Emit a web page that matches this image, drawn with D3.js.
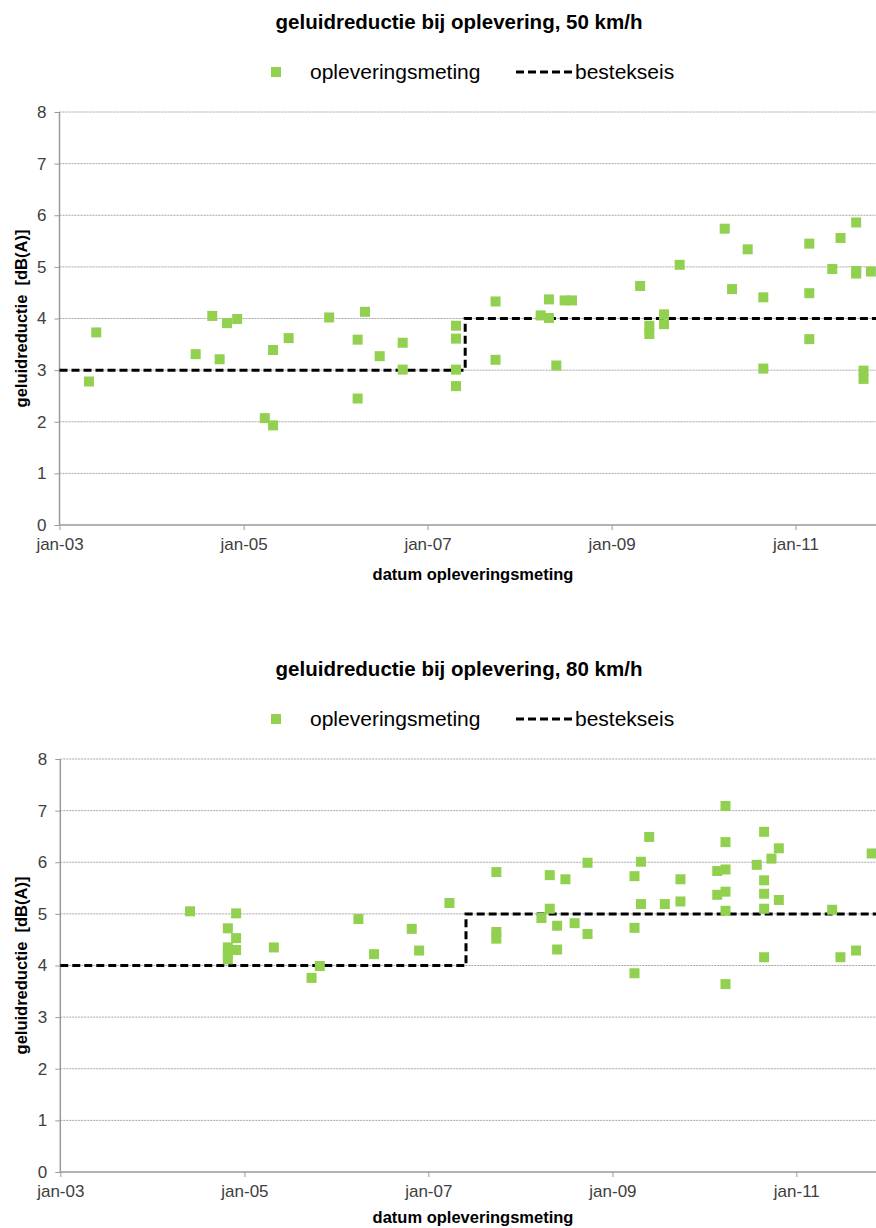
<!DOCTYPE html>
<html>
<head>
<meta charset="utf-8">
<script src="https://cdn.jsdelivr.net/npm/d3@7"></script>
<style>
  body { margin: 0; background: #fff; }
  svg { display: block; font-family: "Liberation Sans", Arial, sans-serif; }
  .tick text { fill: #404040; font-size: 17px; }
  .axis path, .axis line { stroke: #9a9a9a; }
  .grid line { stroke: #a6a6a6; stroke-dasharray: 2,1; }
</style>
</head>
<body>
<svg id="chart" width="876" height="1228"></svg>
<script>
var dates50 = [2003.32, 2003.40, 2004.48, 2004.66, 2004.74, 2004.82, 2004.93, 2005.23, 2005.32, 2005.32,
  2005.49, 2005.93, 2006.24, 2006.24, 2006.32, 2006.48, 2006.73, 2006.73, 2007.31, 2007.31,
  2007.31, 2007.31, 2007.74, 2007.74, 2008.23, 2008.32, 2008.32, 2008.40, 2008.49, 2008.57,
  2009.31, 2009.41, 2009.41, 2009.57, 2009.57, 2009.74, 2010.23, 2010.31, 2010.48, 2010.65,
  2010.65, 2011.15, 2011.15, 2011.15, 2011.40, 2011.49, 2011.66, 2011.66, 2011.66, 2011.82,
  2011.74, 2011.74];
var values50 = [2.78, 3.73, 3.31, 4.05, 3.21, 3.91, 3.99, 2.07, 3.39, 1.93,
  3.62, 4.02, 3.59, 2.45, 4.13, 3.27, 3.53, 3.01, 3.86, 3.61,
  3.01, 2.69, 3.20, 4.33, 4.06, 4.01, 4.37, 3.09, 4.35, 4.35,
  4.63, 3.86, 3.70, 4.08, 3.89, 5.04, 5.74, 4.57, 5.34, 4.41,
  3.03, 5.45, 4.49, 3.60, 4.96, 5.56, 5.86, 4.92, 4.87, 4.91,
  2.99, 2.83];

var dates80 = [2004.41, 2004.82, 2004.82, 2004.82, 2004.82, 2004.91, 2004.91, 2004.91, 2005.32, 2005.73,
  2005.82, 2006.24, 2006.41, 2006.82, 2006.90, 2007.23, 2007.74, 2007.74, 2007.74, 2008.23,
  2008.32, 2008.32, 2008.40, 2008.40, 2008.49, 2008.59, 2008.73, 2008.73, 2009.24, 2009.24,
  2009.24, 2009.31, 2009.31, 2009.40, 2009.57, 2009.74, 2009.74, 2010.14, 2010.14, 2010.23,
  2010.23, 2010.23, 2010.23, 2010.23, 2010.23, 2010.57, 2010.65, 2010.65, 2010.65, 2010.65,
  2010.65, 2010.73, 2010.81, 2010.81, 2011.39, 2011.48, 2011.65, 2011.82];
var values80 = [5.05, 4.72, 4.35, 4.22, 4.12, 5.01, 4.53, 4.30, 4.35, 3.76,
  3.99, 4.90, 4.22, 4.71, 4.29, 5.21, 5.81, 4.65, 4.52, 4.92,
  5.75, 5.10, 4.77, 4.31, 5.67, 4.82, 5.99, 4.61, 5.73, 4.73,
  3.85, 6.01, 5.19, 6.49, 5.19, 5.67, 5.24, 5.83, 5.37, 7.09,
  6.39, 5.86, 5.43, 5.06, 3.64, 5.95, 6.59, 5.65, 5.39, 5.10,
  4.16, 6.07, 6.27, 5.27, 5.08, 4.16, 4.29, 6.17];

// requirement (bestekseis) steps: start date, level
var eisDates = [2003.0, 2007.41, 2011.99];
var eis50 = [3, 4, 4];
var eis80 = [4, 5, 5];

var yTicks = [0, 1, 2, 3, 4, 5, 6, 7, 8];
var xTickYears = [2003, 2005, 2007, 2009, 2011];
var xTickLabels = ["jan-03", "jan-05", "jan-07", "jan-09", "jan-11"];

var titles = ["geluidreductie bij oplevering, 50 km/h", "geluidreductie bij oplevering, 80 km/h"];
var legendLabels = ["opleveringsmeting", "bestekseis"];
var yTitle = "geluidreductie  [dB(A)]";
var xTitle = "datum opleveringsmeting";

var green = "#92d050";

function toDate(y) {
  var yr = Math.floor(y);
  var a = new Date(yr, 0, 1), b = new Date(yr + 1, 0, 1);
  return new Date(+a + (y - yr) * (b - a));
}

var svg = d3.select("#chart");

function drawChart(top, left, title, dates, values, eis, xTitleY) {
  var plotTop = top + 112, plotBottom = top + 525, right = 876;
  var g = svg.append("g");

  var x = d3.scaleTime()
    .domain([toDate(2003), toDate(2011)])
    .range([left, left + 736]);
  var y = d3.scaleLinear()
    .domain([0, 8])
    .range([plotBottom, plotTop]);

  // title
  g.append("text")
    .attr("x", 459).attr("y", top + 29)
    .attr("text-anchor", "middle")
    .style("font-weight", "bold").style("font-size", "20.5px")
    .text(title);

  // legend
  var ly = top + 72;
  g.append("rect").attr("x", 271).attr("y", ly - 5).attr("width", 10).attr("height", 10).attr("fill", green);
  g.append("text").attr("x", 310).attr("y", ly + 7).style("font-size", "21px").text(legendLabels[0]);
  g.append("line").attr("x1", 516).attr("x2", 573).attr("y1", ly).attr("y2", ly)
    .attr("stroke", "#000").attr("stroke-width", 3).attr("stroke-dasharray", "8,4");
  g.append("text").attr("x", 575).attr("y", ly + 7).style("font-size", "21px").text(legendLabels[1]);

  // grid
  g.append("g").attr("class", "grid")
    .selectAll("line").data(yTicks.filter(function(d) { return d > 0; }))
    .enter().append("line")
    .attr("x1", left).attr("x2", right)
    .attr("y1", function(d) { return y(d); }).attr("y2", function(d) { return y(d); });

  // axes
  g.append("g").attr("class", "axis")
    .attr("transform", "translate(" + left + ",0)")
    .call(d3.axisLeft(y).tickValues(yTicks).tickSize(5).tickPadding(8).tickSizeOuter(0))
    .select(".domain").attr("d", "M0," + plotTop + "V" + plotBottom);

  var xAxis = d3.axisBottom(x)
    .tickValues(xTickYears.map(toDate))
    .tickFormat(function(d, i) { return xTickLabels[i]; })
    .tickSize(5).tickPadding(8).tickSizeOuter(0);
  g.append("g").attr("class", "axis")
    .attr("transform", "translate(0," + plotBottom + ")")
    .call(xAxis)
    .select(".domain").attr("d", "M" + left + ",0H" + right);

  g.selectAll(".axis .domain").attr("stroke-width", 1.5);

  // axis titles
  g.append("text")
    .attr("transform", "translate(27," + ((plotTop + plotBottom) / 2) + ") rotate(-90)")
    .attr("text-anchor", "middle")
    .style("font-weight", "bold").style("font-size", "16.5px").style("white-space", "pre")
    .text(yTitle);
  g.append("text")
    .attr("x", 473).attr("y", xTitleY)
    .attr("text-anchor", "middle")
    .style("font-weight", "bold").style("font-size", "16.5px")
    .text(xTitle);

  // requirement step line
  var line = d3.line()
    .x(function(d) { return x(toDate(d[0])); })
    .y(function(d) { return y(d[1]); })
    .curve(d3.curveStepAfter);
  g.append("path")
    .datum(d3.zip(eisDates, eis))
    .attr("d", line)
    .attr("fill", "none").attr("stroke", "#000")
    .attr("stroke-width", 3).attr("stroke-dasharray", "8,4");

  // measurements
  g.append("g").selectAll("rect")
    .data(d3.zip(dates, values))
    .enter().append("rect")
    .attr("x", function(d) { return x(toDate(d[0])) - 5; })
    .attr("y", function(d) { return y(d[1]) - 5; })
    .attr("width", 10).attr("height", 10)
    .attr("fill", green);
}

drawChart(0, 59.5, titles[0], dates50, values50, eis50, 580);
drawChart(647, 60.3, titles[1], dates80, values80, eis80, 1223);
</script>
</body>
</html>
